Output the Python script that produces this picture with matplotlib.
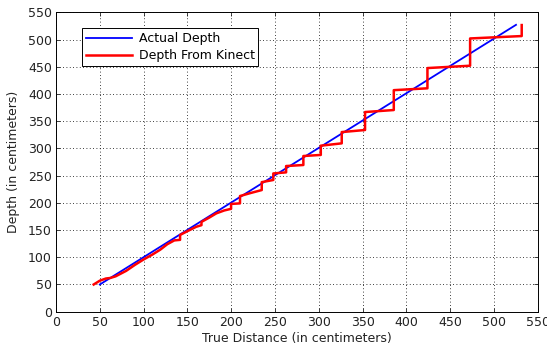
import numpy as np
import matplotlib
matplotlib.use("Agg")
import matplotlib.pyplot as plt

# --------------------------
# data
# --------------------------
true_dist = [50, 525]
actual_depth = [50, 527]

kinect_x = [43, 50, 57, 62, 68, 80, 90, 100, 110, 119, 127, 135, 141.6, 141.6,
            150, 160, 166, 166, 175, 183, 192, 199.8, 199.8, 210, 210, 222,
            234.8, 234.8, 248, 248, 262.6, 262.6, 282.3, 282.3, 302.2, 302.2,
            326.1, 326.1, 352.7, 352.7, 385.5, 385.5, 423.9, 423.9, 472.6,
            472.6, 531.5, 531.5]
kinect_y = [50, 57, 61, 62, 65, 75, 86, 96, 105, 114, 124, 131, 132, 141,
            148, 156, 159, 165, 173, 180.7, 186, 189, 198, 199, 212.5, 218,
            223.5, 238, 242, 254, 256, 267.6, 269.5, 286, 288, 305,
            309.3, 330, 333.8, 366.8, 370.5, 407, 410.4, 447.6, 451.9,
            502, 506.4, 526.6]

plt.rcParams['font.family'] = ['DejaVu Sans']
fs = 9

fig = plt.figure(figsize=(5.47, 3.47), dpi=100)
ax = fig.add_axes([0.1024, 0.1017, 0.881, 0.8628])

ax.plot(true_dist, actual_depth, color='#0000ff', lw=1.3, label='Actual Depth')
ax.plot(kinect_x, kinect_y, color='#ff0000', lw=1.8, label='Depth From Kinect')

ax.set_xlim(0, 550)
ax.set_ylim(0, 550)
ax.set_xticks(np.arange(0, 551, 50))
ax.set_yticks(np.arange(0, 551, 50))
ax.grid(True, color='black', linestyle=(0, (1, 3)), linewidth=0.6)
ax.tick_params(direction='in', top=True, right=True, labelsize=fs,
               length=3, width=0.6, colors='#222222', pad=3)
for s in ax.spines.values():
    s.set_linewidth(0.7)

ax.set_xlabel('True Distance (in centimeters)', fontsize=fs, labelpad=2, color='#222222')
ax.set_ylabel('Depth (in centimeters)', fontsize=fs, labelpad=6, color='#222222')

leg = ax.legend(loc='upper left', bbox_to_anchor=(0.0546, 0.9466), fontsize=fs,
                fancybox=False, framealpha=1, edgecolor='black',
                handlelength=3.7, handletextpad=0.5, borderpad=0.3,
                labelspacing=0.35, borderaxespad=0)
leg.get_frame().set_linewidth(0.7)

fig.savefig('out.png', dpi=100)
